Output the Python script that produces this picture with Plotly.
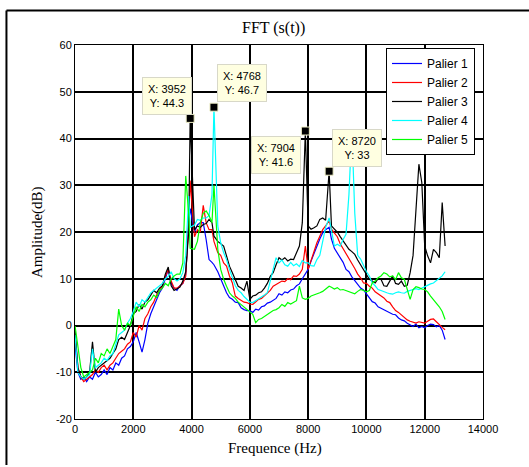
import plotly.graph_objects as go

# ---------------- data ----------------
freq = list(range(0, 12800, 100))
# frequencies of the data tips replace the nearest grid points
freq[40] = 3952
freq[48] = 4768
freq[79] = 7904
freq[87] = 8720

palier1 = [
    -4, -10, -11.5, -11, -12, -11, -11.5, -10, -11, -10.5,
    -9.5, -10.5, -9, -9.5, -8, -8.5, -7, -6.5, -5, -4.5,
    -3.5, -1.5, -3.5, -5.7, -3, 0.5, 2.5, 4, 5.5, 7,
    8, 10, 12, 9, 8, 7.5, 8.5, 9, 11, 22,
    25, 20, 21.5, 22, 22, 18.4, 14.1, 13.5, 13, 11.5,
    9.9, 8.4, 7, 6, 5.6, 5, 4.9, 3.8, 3.4, 3.2,
    3.2, 2.8, 3.5, 3.3, 4, 4.2, 4.8, 5, 5.4, 5.8,
    6.8, 6.5, 7.2, 7, 7.6, 7.8, 8.5, 8.9, 10, 11,
    12, 13.8, 15.5, 17, 18.5, 19.8, 20.5, 21, 18.5, 16.5,
    15.5, 14.8, 13.5, 12, 11.5, 10.4, 9.6, 8.8, 8, 7.6,
    6.8, 6, 5.1, 4.8, 4, 3.7, 3.4, 3, 2.8, 2.4,
    2.3, 1.6, 1.2, 1, 0.5, 0.2, -0.2, 0.3, -0.5, -0.2,
    -0.5, 0, 0.3, 0.2, -0.3, 0, -1, -3,
]
palier2 = [
    -2, -9, -11, -12, -11.5, -11, -10.5, -9.5, -10, -9,
    -8.5, -9.5, -8.5, -8, -7, -6, -5.5, -5, -4, -3.5,
    -1.5, -2.5, 0, -1, 1.5, 2.5, 4, 5, 6.5, 7.5,
    8.5, 10.5, 12, 9.5, 8, 8, 8.5, 9, 10.5, 22,
    31, 19, 20.5, 20, 25.7, 22, 20.5, 20.5, 18, 15.6,
    15, 13.4, 12.7, 10.6, 9.1, 6.3, 5.8, 5.4, 5, 4.9,
    4.6, 4.5, 5, 5.6, 5.8, 6.3, 7, 7.5, 8.4, 8.8,
    9.1, 9.5, 9.4, 10, 9.8, 10.6, 10.5, 11, 12, 17,
    12, 14, 16, 17.7, 19.1, 20.5, 21.3, 22.4, 20.6, 19.8,
    19, 17.5, 16.5, 15.2, 14.5, 13.4, 12.2, 11, 10.2, 9.1,
    9, 8.4, 8, 7.2, 6.8, 6.3, 5.9, 5.2, 4.9, 4,
    3.2, 2.8, 2.2, 1.8, 1.2, 0.9, 0.7, 0.5, 0.8, 0.6,
    0.5, 0.9, 1.3, 1.4, 0.8, 0, -0.4, -0.9,
]
palier3 = [
    -1, -9, -11, -11.5, -11, -10, -3.5, -10, -9, -8.5,
    -8, -7.5, -7, -6, -5, -3, -2.5, -3, -1.5, 0,
    2.5, 3, 4.5, 3.5, 5, 5.5, 6.5, 7.5, 7, 8,
    8.5, 11, 12.5, 8.5, 7.5, 7.8, 8.2, 9.5, 11.5, 20,
    44.3, 20.5, 21.3, 21, 21.6, 21.8, 22.7, 22, 19.1, 18,
    17.5, 17, 14.9, 12.7, 11.3, 9.8, 8.4, 8, 7.5, 9.5,
    5.6, 6.3, 6.5, 7, 7.2, 8, 9, 10.5, 11.3, 13,
    14.5, 14, 14.5, 13.8, 14.2, 14.1, 15.5, 17, 22, 41.6,
    21.3, 20.6, 20.9, 21.3, 22.7, 23, 22.5, 33, 21.3, 20.6,
    20, 19, 18, 17, 16.3, 15.8, 15.2, 14, 13, 12,
    11, 9.9, 9.5, 9.1, 10, 9.9, 8.5, 8.4, 9.5, 10.6,
    9, 8.8, 9.5, 8.4, 8.6, 11.3, 15, 25.6, 34.5, 30.6,
    17, 14.9, 13.4, 16.3, 15.6, 14.5, 26.3, 17,
]
palier4 = [
    -2, -10, -11, -11.5, -11, -10.5, -5, -9, -8.5, -8,
    -7, -7.5, -6.5, -6, -4, -2, -1.5, -1, 0.5, 1.5,
    3, 5, 4, 5.5, 5, 6, 7, 7.5, 8, 8.5,
    9, 10, 10.5, 11.5, 10, 9.5, 10, 11.3, 15, 27.7,
    21, 21.5, 22.7, 22.5, 23, 23, 23.5, 28, 46.7, 21.3,
    17.7, 15.6, 14.1, 12, 10, 8.5, 7.5, 7, 6.2, 5.6,
    5, 4.9, 5.3, 5.6, 6, 6.5, 7, 9.5, 12.5, 14.5,
    13.4, 14, 13, 12.7, 13.5, 12.8, 13.2, 12.6, 13.9, 13.4,
    13.4, 12.8, 12.7, 14.1, 15, 18.4, 21, 23, 19.9, 17,
    17.4, 17, 18.4, 19.5, 28, 42, 24, 15, 14.2, 12.7,
    11.5, 10.6, 9.1, 8.5, 7.7, 7.5, 7.2, 7, 6.8, 6.7,
    7, 7.2, 7, 6.9, 7.3, 7.5, 7.7, 7.9, 7.7, 8,
    8.4, 8.6, 8.9, 9.1, 9.6, 10, 10.6, 11.5,
]
palier5 = [
    0, -5, -9, -11, -10.5, -10, -9.5, -7, -8, -6,
    -6.5, -5, -6, -4.5, -3, 3.5, 0, -1, 0.5, 0,
    2, 4, 3, 4.5, 4, 5, 5.5, 6.5, 6, 7.5,
    8, 9, 8.5, 10, 10.6, 11, 11, 13.4, 32, 24,
    16.5, 16.3, 18, 22, 24, 24.5, 23.5, 22, 30, 16.3,
    12, 9.9, 8.4, 7, 6.3, 5.8, 5, 4.5, 4, 3.4,
    3, 2.4, 0.6, 1.3, 1.5, 2, 2.3, 2.8, 3.2, 3.4,
    3.8, 4.5, 4.1, 4.9, 4.6, 4.9, 5.3, 8.4, 5.9, 5.6,
    5.8, 6.3, 6.5, 6.8, 7, 7.3, 7.9, 8.4, 8.2, 7.8,
    8.1, 7.6, 7.7, 7.5, 7.2, 7, 6.8, 7.3, 7.7, 7.5,
    7.2, 7.5, 9.1, 9.5, 10.2, 10.6, 11.3, 11, 10.4, 10.6,
    9.8, 11.3, 10.2, 9.9, 7.5, 5.6, 7.7, 8.3, 8.1, 7.8,
    7.7, 7.2, 6.3, 5.6, 4.9, 4, 3, 1.3,
]

series_names = ["Palier 1", "Palier 2", "Palier 3", "Palier 4", "Palier 5"]
series_values = [palier1, palier2, palier3, palier4, palier5]

tip_x = [3952, 4768, 7904, 8720]
tip_y = [44.3, 46.7, 41.6, 33]

x_ticks = [0, 2000, 4000, 6000, 8000, 10000, 12000, 14000]
y_ticks = [-20, -10, 0, 10, 20, 30, 40, 50, 60]

# ---------------- style ----------------
colors = ["#0000FF", "#FF0000", "#000000", "#00FFFF", "#00FF00"]
tip_anchor = [  # (xanchor, yanchor, xshift, yshift)
    ("right", "bottom", 2, 3),
    ("left", "bottom", 3, 5),
    ("right", "top", -4, -5),
    ("left", "bottom", 3, 4),
]
SANS = "Arial, Liberation Sans, sans-serif"
SERIF = "Times New Roman, Liberation Serif, serif"

fig = go.Figure()
for name, vals, col in zip(series_names, series_values, colors):
    fig.add_trace(go.Scatter(
        x=freq, y=vals, mode="lines", name=name,
        line=dict(color=col, width=1.2),
    ))

fig.add_trace(go.Scatter(
    x=tip_x, y=tip_y, mode="markers", showlegend=False,
    marker=dict(symbol="square", size=8, color="black",
                line=dict(color="#F0F0C8", width=1)),
))

annotations = []
for tx, ty, (xa, ya, xs, ys) in zip(tip_x, tip_y, tip_anchor):
    annotations.append(dict(
        x=tx, y=ty, xref="x", yref="y", showarrow=False,
        text=f"X: {tx}<br>Y: {ty:g}", align="center",
        xanchor=xa, yanchor=ya, xshift=xs, yshift=ys,
        bgcolor="#FFFFE1", bordercolor="#D8D8C8", borderwidth=1,
        borderpad=5, font=dict(family=SANS, size=11, color="black"),
    ))

annotations += [
    dict(text="FFT (s(t))", xref="paper", yref="paper", x=0.487, y=1.0455,
         showarrow=False, xanchor="center", yanchor="middle",
         font=dict(family=SERIF, size=16, color="black")),
    dict(text="Frequence (Hz)", xref="paper", yref="paper", x=0.49, y=-0.078,
         showarrow=False, xanchor="center", yanchor="middle",
         font=dict(family=SERIF, size=15, color="black")),
    dict(text="Amplitude(dB)", xref="paper", yref="paper", x=-0.093, y=0.5,
         showarrow=False, xanchor="center", yanchor="middle", textangle=-90,
         font=dict(family=SERIF, size=15, color="black")),
]

axis_common = dict(
    showgrid=True, gridcolor="black", gridwidth=1.5,
    showline=True, linecolor="black", linewidth=1, mirror=True,
    ticks="inside", ticklen=4, tickcolor="black",
    zeroline=False, tickfont=dict(family=SANS, size=11, color="black"),
)

fig.update_layout(
    width=529, height=467,
    margin=dict(l=75, r=46, t=45, b=48),
    paper_bgcolor="white", plot_bgcolor="white",
    xaxis=dict(range=[0, 14000], tickvals=x_ticks,
               ticktext=[str(v) for v in x_ticks], **axis_common),
    yaxis=dict(range=[-20, 60], tickvals=y_ticks,
               ticktext=[str(v) for v in y_ticks], **axis_common),
    legend=dict(x=0.7623, y=0.992, xanchor="left", yanchor="top",
                bgcolor="white", bordercolor="black", borderwidth=1,
                font=dict(family=SANS, size=12, color="black"),
                tracegroupgap=0),
    annotations=annotations,
    shapes=[
        dict(type="line", xref="paper", yref="paper",
             x0=-0.168, x1=-0.168, y0=1.0922, y1=-0.123,
             line=dict(color="black", width=2)),
        dict(type="line", xref="paper", yref="paper",
             x0=-0.168, x1=1.2, y0=1.0922, y1=1.0922,
             line=dict(color="black", width=2)),
    ],
)

fig.write_html("out.html")
